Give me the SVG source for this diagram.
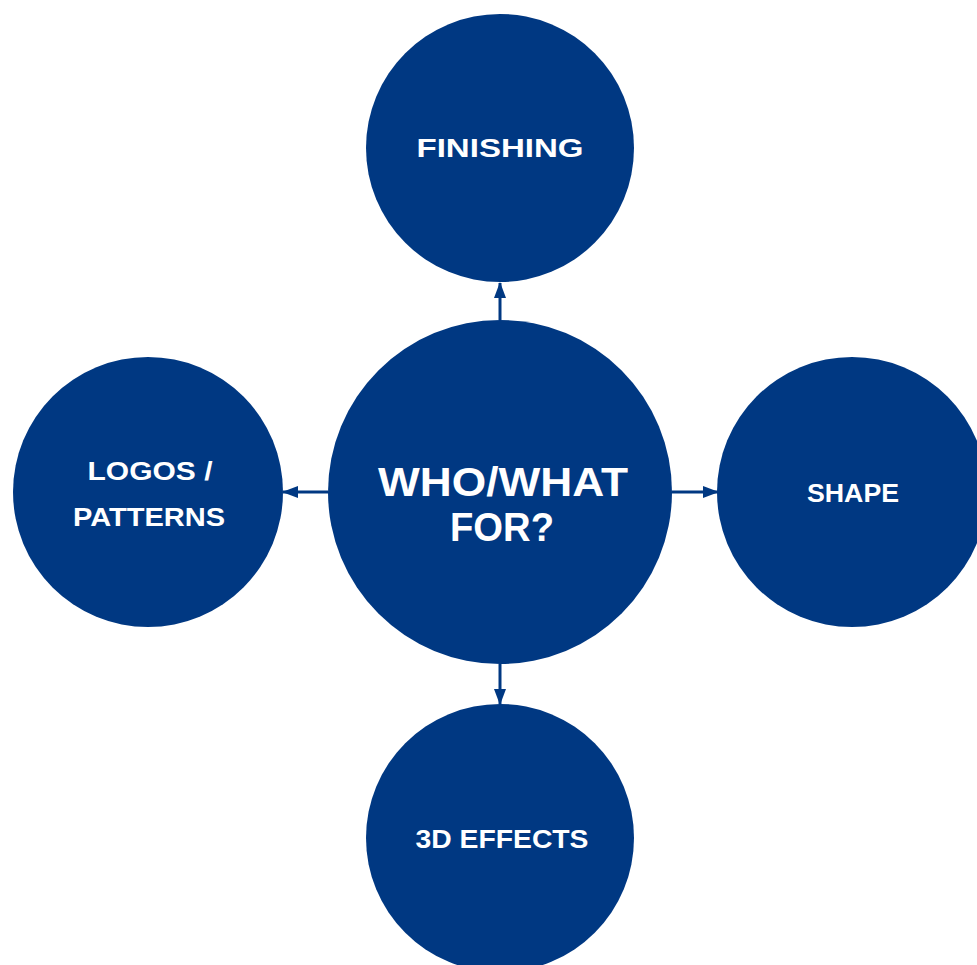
<svg xmlns="http://www.w3.org/2000/svg" width="977" height="965" viewBox="0 0 977 965">
<style>
.n{fill:#003882}
.t{fill:#fff;font-family:"Liberation Sans","DejaVu Sans",sans-serif;font-weight:bold;text-anchor:middle}
.s{font-size:26px}
.b{font-size:40px}
.c{stroke:#003882;stroke-width:3;fill:none}
</style>
<defs>
<marker id="ah" markerWidth="16" markerHeight="12" refX="15" refY="6" orient="auto" markerUnits="userSpaceOnUse">
<path d="M0,0 L16,6 L0,12 Z" fill="#003882"/>
</marker>
</defs>
<rect width="977" height="965" fill="#fff"/>
<g id="connectors">
<line class="c" x1="500" y1="320" x2="500" y2="283" marker-end="url(#ah)"/>
<line class="c" x1="328" y1="492" x2="283" y2="492" marker-end="url(#ah)"/>
<line class="c" x1="672" y1="492" x2="718" y2="492" marker-end="url(#ah)"/>
<line class="c" x1="500" y1="664" x2="500" y2="704" marker-end="url(#ah)"/>
</g>
<g id="center">
<circle class="n" cx="500" cy="492" r="172"/>
<text class="t b" x="503" y="496" textLength="250" lengthAdjust="spacingAndGlyphs">WHO/WHAT</text>
<text class="t b" x="502" y="541" textLength="104" lengthAdjust="spacingAndGlyphs">FOR?</text>
</g>
<g id="finishing">
<circle class="n" cx="500" cy="148" r="134"/>
<text class="t s" x="500" y="157" textLength="167" lengthAdjust="spacingAndGlyphs">FINISHING</text>
</g>
<g id="logos">
<circle class="n" cx="148" cy="492" r="135"/>
<text class="t s" x="150" y="480" textLength="125" lengthAdjust="spacingAndGlyphs">LOGOS /</text>
<text class="t s" x="149" y="526" textLength="152" lengthAdjust="spacingAndGlyphs">PATTERNS</text>
</g>
<g id="shape">
<circle class="n" cx="852" cy="492" r="135"/>
<text class="t s" x="853" y="502" textLength="92" lengthAdjust="spacingAndGlyphs">SHAPE</text>
</g>
<g id="effects">
<circle class="n" cx="500" cy="838" r="134"/>
<text class="t s" x="502" y="848" textLength="173" lengthAdjust="spacingAndGlyphs">3D EFFECTS</text>
</g>
</svg>
